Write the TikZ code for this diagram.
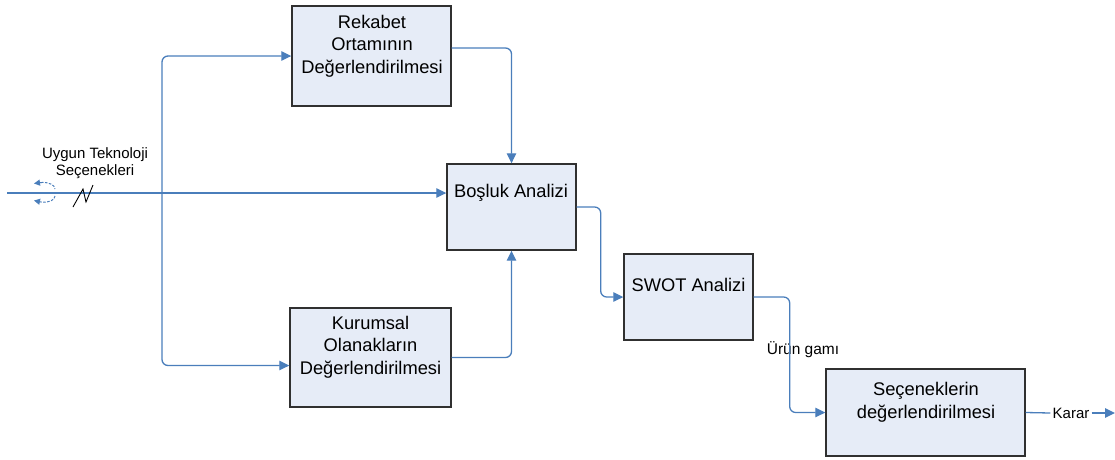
\documentclass[tikz,border=0pt]{standalone}
\usepackage{fontspec}
\setmainfont{Liberation Sans}
\usetikzlibrary{arrows.meta,calc}
\definecolor{lineblue}{HTML}{4A7EBB}
\definecolor{boxfill}{HTML}{E6ECF7}
\definecolor{boxdraw}{HTML}{303030}
\begin{document}
\begin{tikzpicture}[x=1pt,y=-1pt,
 box/.style={draw=boxdraw,line width=1.4pt,fill=boxfill,rectangle,inner sep=0pt},
 boxtext/.style={font=\fontsize{18.3}{22.5}\selectfont,align=center,inner sep=0pt,anchor=center},
 conn/.style={draw=lineblue,line width=1.3pt,rounded corners=6pt},
 arr/.style={conn,-{Triangle[length=10pt,width=9.5pt]}},
 lbl/.style={font=\fontsize{15}{17}\selectfont,align=center,inner sep=1pt}]

\useasboundingbox (0,0) rectangle (1115,459);

% boxes
\node[box,minimum width=159pt,minimum height=100pt] (rek) at (371.5,56) {};
\node[box,minimum width=161pt,minimum height=99pt] (kur) at (370.5,357.5) {};
\node[box,minimum width=129pt,minimum height=86pt] (bos) at (511.5,207) {};
\node[box,minimum width=129pt,minimum height=86pt] (swot) at (688.5,297) {};
\node[box,minimum width=199pt,minimum height=87pt] (sec) at (925.5,412.5) {};

% box texts
\node[boxtext] (rekt) at (372,46) {Rekabet\\Ortamının\\Değerlendirilmesi};
\node[boxtext] (kurt) at (370.5,347) {Kurumsal\\Olanakların\\Değerlendirilmesi};
\node[boxtext] (bost) at (511,193) {Boşluk Analizi};
\node[boxtext] (swott) at (688.5,285) {SWOT Analizi};
\node[boxtext] (sect) at (926,402.5) {Seçeneklerin\\değerlendirilmesi};

% labels
\node[lbl] (uygun) at (95,163) {Uygun Teknoloji\\Seçenekleri};
\node[lbl,font=\fontsize{15.5}{17}\selectfont] (urun) at (803,350) {Ürün gamı};
\node[lbl,inner sep=2pt] (karar) at (1071,413) {Karar};

% coordinates
\coordinate (in) at (7,193);
\coordinate (br) at (162,193);
\coordinate (out) at (1115,413);

% connectors
\draw[arr] (in) -- (in -| bos.west);
\draw[arr] (br) |- (rek.west);
\draw[arr] (br) |- ($(kur.west)+(0,8)$);
\draw[arr] ($(rek.east)+(0,-8)$) -| (bos.north);
\draw[arr] (kur.east) -| (bos.south);
\draw[arr] (bos.east) -- ++(24,0) |- (swot.west);
\draw[arr] (swot.east) -- ++(36,0) |- (sec.west);
\draw[conn] (sec.east) -- (karar.west);
\draw[arr] (karar.east) -- (out);

% hatch mark on input line
\draw[black,line width=0.9pt] (73,207) -- (83,189) -- (86,202) -- (93,185);

% rotation symbol
\draw[lineblue,line width=1pt,dash pattern=on 2.5pt off 1.5pt] (41,182.5) .. controls (49,182) and (55,185) .. (55,189);
\draw[lineblue,line width=1pt,-{Triangle[length=6pt,width=6pt]}] (41,182.5) -- (34,183.5);
\draw[lineblue,line width=1pt,dash pattern=on 2.5pt off 1.5pt] (55,196) .. controls (55,200) and (49,203) .. (41,202);
\draw[lineblue,line width=1pt,-{Triangle[length=6pt,width=6pt]}] (41,202) -- (34,200.5);
\end{tikzpicture}
\end{document}
